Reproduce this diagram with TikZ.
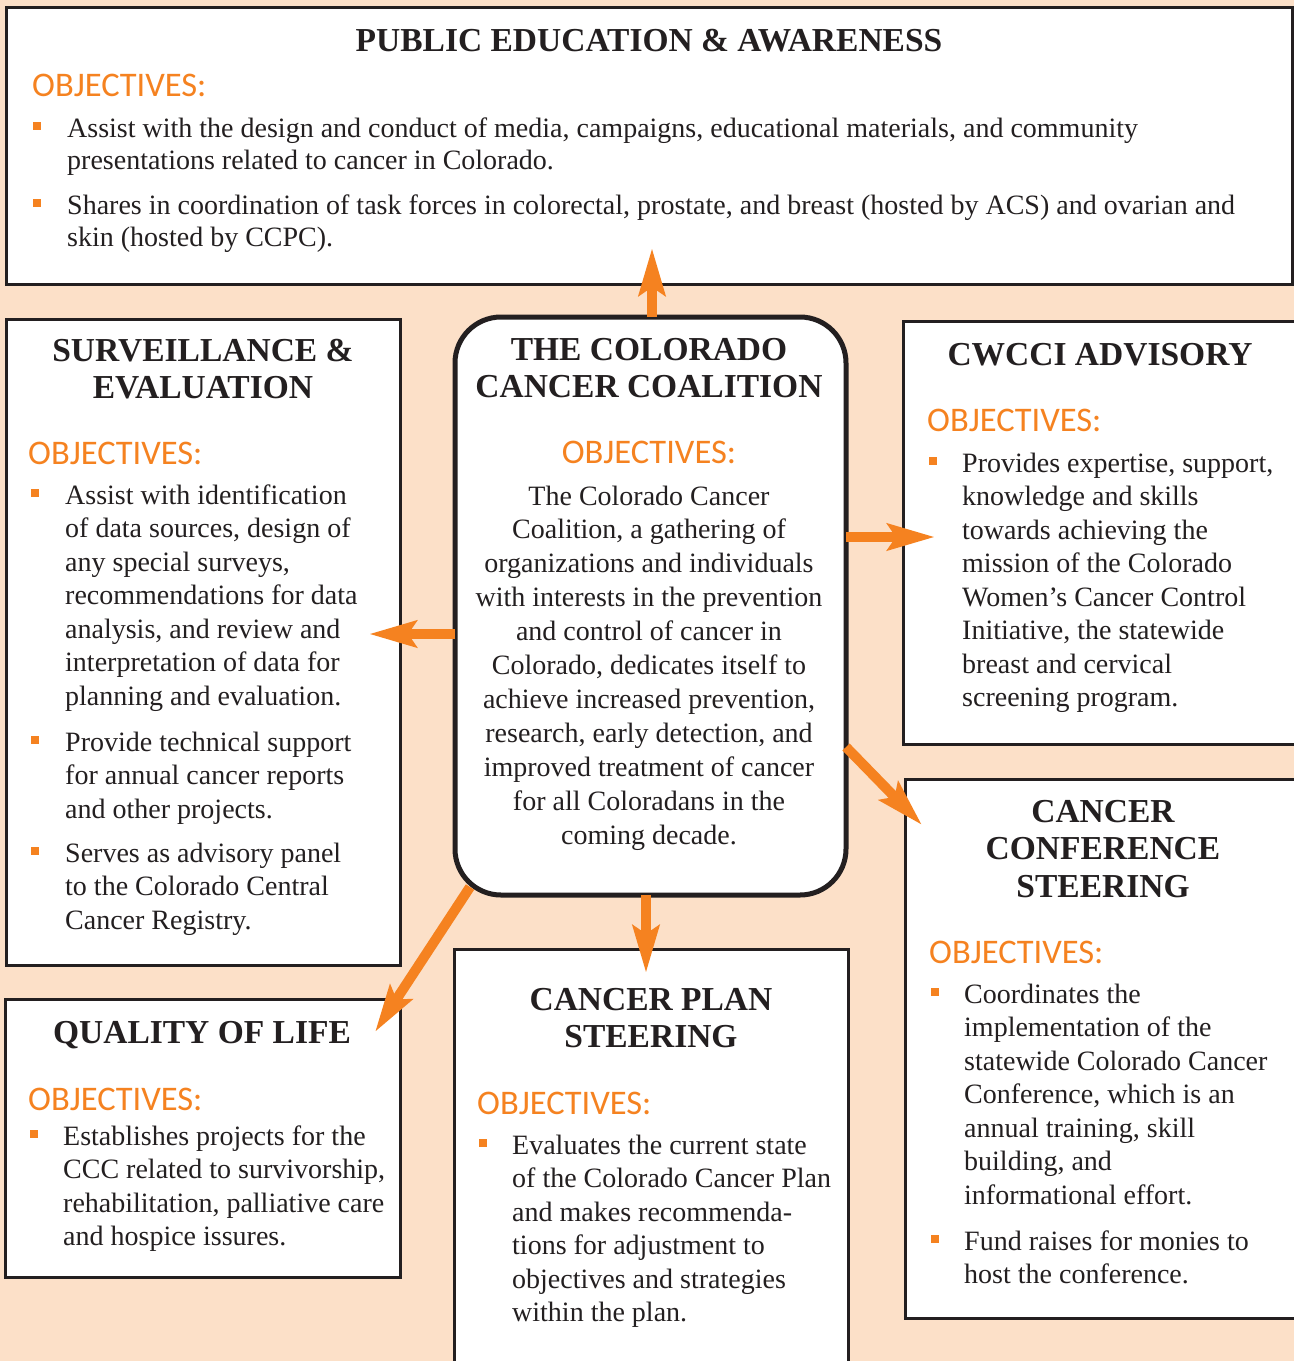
\documentclass[tikz,border=0pt]{standalone}
\usepackage{fontspec}
\setmainfont{Liberation Serif}
\newfontfamily\objfont{Carlito}
\usetikzlibrary{arrows.meta,calc}
\definecolor{peach}{HTML}{FCE0C8}
\definecolor{orng}{HTML}{F58220}
\definecolor{ink}{HTML}{231F20}
\newcommand\txtblk[2]{\parbox[t]{#1pt}{\raggedright #2}}
\newcommand\ctrblk[2]{\parbox[t]{#1pt}{\centering #2}}
\newcommand\bsq[2]{\fill[orng] (#1,#2-15) rectangle ++(8,8);}
\tikzset{
 boxst/.style={draw=ink, line width=3pt, fill=white, inner sep=0pt, outer sep=0pt, anchor=north west},
 ttl/.style={anchor=base, inner sep=0pt, text=ink, font=\fontsize{33.5}{37.5}\selectfont\bfseries},
 obj/.style={anchor=base west, inner sep=0pt, text=orng, font=\objfont\fontsize{34.5}{36}\selectfont},
 objc/.style={anchor=base, inner sep=0pt, text=orng, font=\objfont\fontsize{34.5}{36}\selectfont},
 body/.style={anchor=base west, inner sep=0pt, text=ink, font=\fontsize{28}{33.5}\selectfont},
 bodytop/.style={anchor=base west, inner sep=0pt, text=ink, font=\fontsize{28}{32}\selectfont},
 bodyc/.style={anchor=base, inner sep=0pt, text=ink, font=\fontsize{28}{33.9}\selectfont},
 arr/.style={draw=orng, line width=10pt, -{Stealth[length=47pt,width=26pt,inset=8pt]}},
}
\begin{document}
\begin{tikzpicture}[x=1pt,y=-1pt]
\clip (0,0) rectangle (1294,1361);
\fill[peach] (0,0) rectangle (1294,1361);
% boxes
\node[boxst, minimum width=1286pt, minimum height=277pt] (pub) at (6,7) {};
\node[boxst, minimum width=394pt, minimum height=646pt] (surv) at (6,319) {};
\node[boxst, minimum width=397pt, minimum height=423pt] (cwcci) at (903,321) {};
\node[boxst, minimum width=395pt, minimum height=539pt] (conf) at (905,779) {};
\node[boxst, minimum width=395pt, minimum height=278pt] (qol) at (5,999) {};
\node[boxst, minimum width=394pt, minimum height=421pt] (plan) at (454,949) {};
\node[boxst, line width=5pt, rounded corners=46pt, minimum width=391pt, minimum height=578pt] (center) at (455,317) {};
% public education
\node[ttl] (pubT) at (649,51) {PUBLIC EDUCATION \& AWARENESS};
\node[obj] (pubO) at (32,96) {OBJECTIVES:};
\bsq{33}{137}
\node[bodytop] (pubB1) at (67,137) {\txtblk{1250}{Assist with the design and conduct of media, campaigns, educational materials, and community\\presentations related to cancer in Colorado.}};
\bsq{33}{214}
\node[bodytop] (pubB2) at (67,214) {\txtblk{1250}{Shares in coordination of task forces in colorectal, prostate, and breast (hosted by ACS) and ovarian and\\skin (hosted by CCPC).}};
% surveillance
\node[ttl] (survT) at (203,361) {\ctrblk{390}{SURVEILLANCE \&\\EVALUATION}};
\node[obj] (survO) at (28,464) {OBJECTIVES:};
\bsq{31}{504}
\node[body] (survB1) at (65,504) {\txtblk{600}{Assist with identification\\of data sources, design of\\any special surveys,\\recommendations for data\\analysis, and review and\\interpretation of data for\\planning and evaluation.}};
\bsq{31}{751}
\node[body] (survB2) at (65,751) {\txtblk{600}{Provide technical support\\for annual cancer reports\\and other projects.}};
\bsq{31}{862}
\node[body] (survB3) at (65,862) {\txtblk{600}{Serves as advisory panel\\to the Colorado Central\\Cancer Registry.}};
% center
\node[ttl] (cenT) at (649,360) {\ctrblk{500}{THE COLORADO\\CANCER COALITION}};
\node[objc] (cenO) at (649,463) {OBJECTIVES:};
\node[bodyc] (cenB) at (649,505) {\ctrblk{500}{The Colorado Cancer\\Coalition, a gathering of\\organizations and individuals\\with interests in the prevention\\and control of cancer in\\Colorado, dedicates itself to\\achieve increased prevention,\\research, early detection, and\\improved treatment of cancer\\for all Coloradans in the\\coming decade.}};
% cwcci
\node[ttl] (cwT) at (1100,365) {CWCCI ADVISORY};
\node[obj] (cwO) at (927,431) {OBJECTIVES:};
\bsq{929}{472}
\node[body] (cwB1) at (962,472) {\txtblk{600}{Provides expertise, support,\\knowledge and skills\\towards achieving the\\mission of the Colorado\\Women’s Cancer Control\\Initiative, the statewide\\breast and cervical\\screening program.}};
% conference
\node[ttl] (cfT) at (1103,822) {\ctrblk{390}{CANCER\\CONFERENCE\\STEERING}};
\node[obj] (cfO) at (929,963) {OBJECTIVES:};
\bsq{931}{1003}
\node[body] (cfB1) at (964,1003) {\txtblk{600}{Coordinates the\\implementation of the\\statewide Colorado Cancer\\Conference, which is an\\annual training, skill\\building, and\\informational effort.}};
\bsq{931}{1250}
\node[body] (cfB2) at (964,1250) {\txtblk{600}{Fund raises for monies to\\host the conference.}};
% quality of life
\node[ttl] (qT) at (202,1043) {QUALITY OF LIFE};
\node[obj] (qO) at (28,1110) {OBJECTIVES:};
\bsq{30}{1145}
\node[body] (qB1) at (63,1145) {\txtblk{600}{Establishes projects for the\\CCC related to survivorship,\\rehabilitation, palliative care\\and hospice issures.}};
% plan
\node[ttl] (pT) at (651,1010) {\ctrblk{390}{CANCER PLAN\\STEERING}};
\node[obj] (pO) at (477,1114) {OBJECTIVES:};
\bsq{479}{1154}
\node[body] (pB1) at (512,1154) {\txtblk{600}{Evaluates the current state\\of the Colorado Cancer Plan\\and makes recommenda-\\tions for adjustment to\\objectives and strategies\\within the plan.}};
% arrows
\coordinate (tU) at (652,248);
\coordinate (tL) at (369,634);
\coordinate (tR) at (935,537);
\coordinate (tD) at (646,973);
\coordinate (sDR) at (847,747);
\coordinate (tDR) at (922,825);
\coordinate (tDL) at (375,1032);
\draw[arr] (center.north -| tU) -- (tU);
\draw[arr] (center.west |- tL) -- (tL);
\draw[arr] (center.east |- tR) -- (tR);
\draw[arr] (center.south -| tD) -- (tD);
\draw[arr] (center.east |- sDR) -- (tDR);
\draw[arr] ($(center.south west)+(15,-8)$) -- (tDL);
\end{tikzpicture}
\end{document}
